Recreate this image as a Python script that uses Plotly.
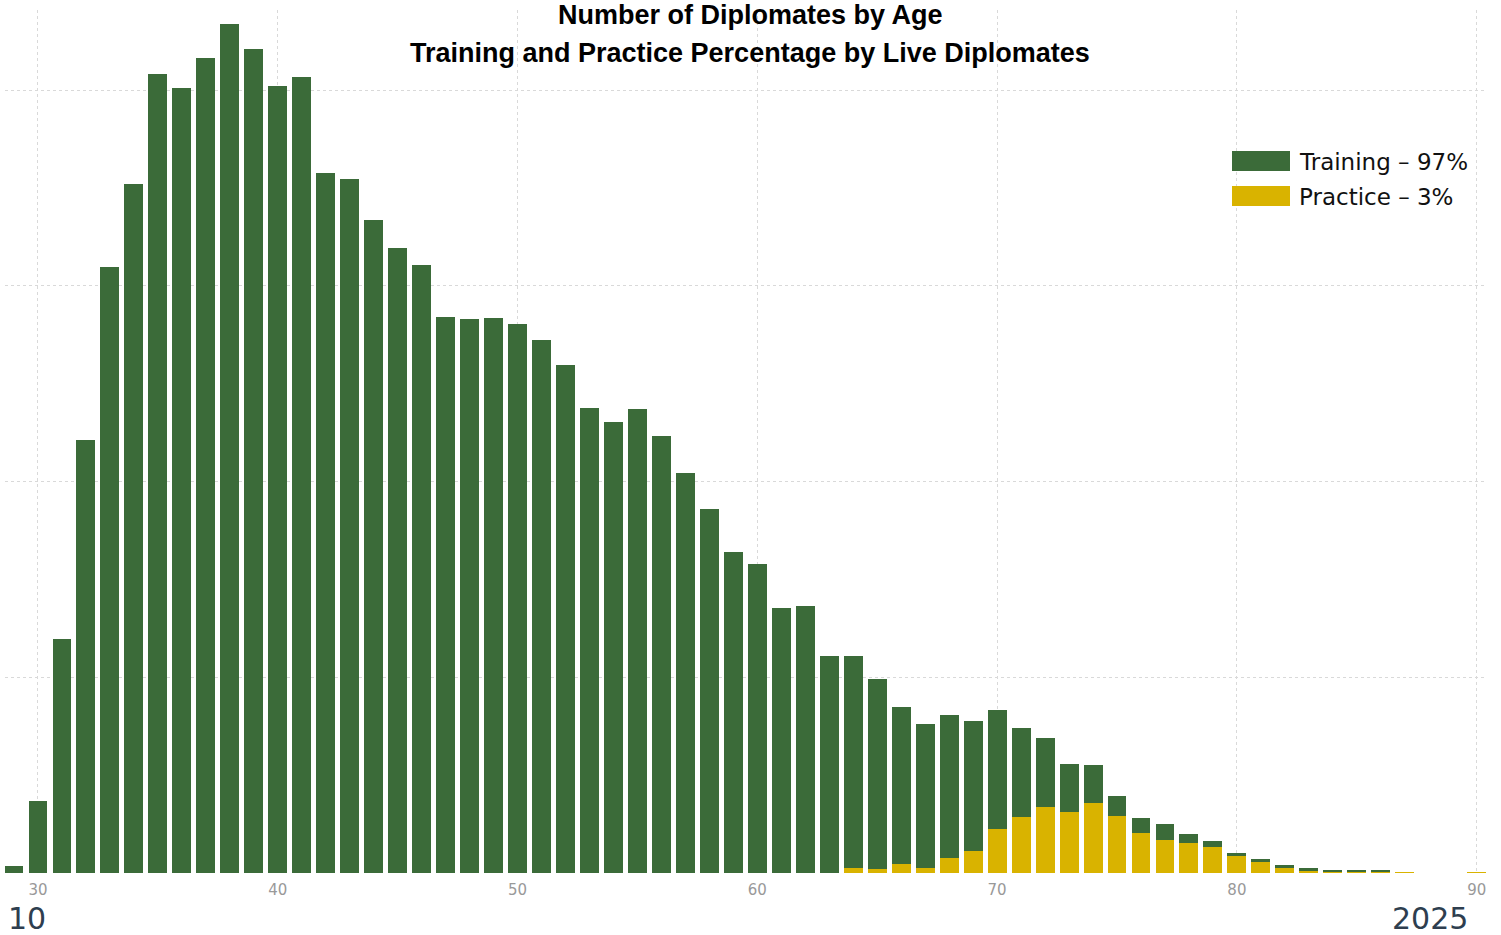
import plotly.graph_objects as go

ages = list(range(29, 91))

training = [7, 74, 239, 443, 619, 704, 817, 802, 833, 868,
            842, 804, 814, 715, 709, 667, 639, 621, 568, 566,
            567, 561, 545, 519, 475, 461, 474, 447, 409, 372,
            328, 316, 271, 273, 222, 217, 194, 161, 147, 146,
            132, 122, 91, 71, 49, 38, 21, 15, 16, 9,
            6, 3, 3, 2, 2, 1, 1, 1, 0, 0,
            0, 0]

practice = [0, 0, 0, 0, 0, 0, 0, 0, 0, 0,
            0, 0, 0, 0, 0, 0, 0, 0, 0, 0,
            0, 0, 0, 0, 0, 0, 0, 0, 0, 0,
            0, 0, 0, 0, 0, 5, 4, 9, 5, 15,
            23, 45, 57, 67, 62, 72, 58, 41, 34, 31,
            27, 17, 11, 6, 3, 2, 2, 2, 1, 0,
            0, 1]

series_names = ["Practice – 3%", "Training – 97%"]
series_colors = ["#D9B300", "#3B6B39"]

title_lines = ["Number of Diplomates by Age", "Training and Practice Percentage by Live Diplomates"]
year_from = "10"
year_to = "2025"

W, H = 1501, 935
L, R, T, B = 5, 14, 10, 62


def px_x(p):
    return (p - L) / (W - L - R)


def px_y(p):
    return (H - B - p) / (H - T - B)


fig = go.Figure()
for name, vals, col in zip(series_names, [practice, training], series_colors):
    fig.add_trace(go.Bar(
        x=ages, y=vals, name=name,
        marker=dict(color=col, line=dict(width=0)),
        showlegend=False,
    ))

# legend drawn by hand, the swatches are wide rectangles
legend_order = [1, 0]
for i, k in enumerate(legend_order):
    top = 151 + i * 35
    fig.add_shape(type="rect", xref="paper", yref="paper",
                  x0=px_x(1232), x1=px_x(1290), y0=px_y(top + 20), y1=px_y(top),
                  fillcolor=series_colors[k], line=dict(width=0))
    fig.add_annotation(text=series_names[k], xref="paper", yref="paper",
                       x=px_x(1297), y=px_y(top + 11), xanchor="left", yanchor="middle",
                       showarrow=False, font=dict(family="DejaVu Sans", size=23, color="#111"))

for i, line in enumerate(title_lines):
    fig.add_annotation(text="<b>" + line + "</b>", xref="paper", yref="paper",
                       x=px_x(750), y=px_y(15 + 38 * i), xanchor="center", yanchor="middle",
                       showarrow=False, font=dict(family="Liberation Sans", size=27, color="black"))

fig.add_annotation(text=year_from, xref="paper", yref="paper", x=px_x(6), y=px_y(918),
                   xanchor="left", yanchor="middle", showarrow=False,
                   font=dict(family="DejaVu Sans", size=30, color="#2E3E4F"))
fig.add_annotation(text=year_to, xref="paper", yref="paper", x=px_x(1470), y=px_y(918),
                   xanchor="right", yanchor="middle", showarrow=False,
                   font=dict(family="DejaVu Sans", size=30, color="#2E3E4F"))

fig.update_layout(
    width=W, height=H,
    barmode="stack", bargap=0.21,
    plot_bgcolor="white", paper_bgcolor="white",
    margin=dict(l=L, r=R, t=T, b=B),
    xaxis=dict(range=[28.624, 90.43], tickvals=[30, 40, 50, 60, 70, 80, 90],
               showgrid=True, gridcolor="#D9D9D9", griddash="dot", gridwidth=1,
               zeroline=False, showline=False, ticks="", ticklabelstandoff=6,
               tickfont=dict(family="DejaVu Sans", size=15, color="#999")),
    yaxis=dict(range=[0, 882], dtick=200, showticklabels=False,
               showgrid=True, gridcolor="#D9D9D9", griddash="dot", gridwidth=1,
               zeroline=False, showline=False),
)

# drop the default body margin so the figure fills the window from its corner
fig.write_html("out.html", config={"displayModeBar": False},
               post_script="document.body.style.margin='0';")
